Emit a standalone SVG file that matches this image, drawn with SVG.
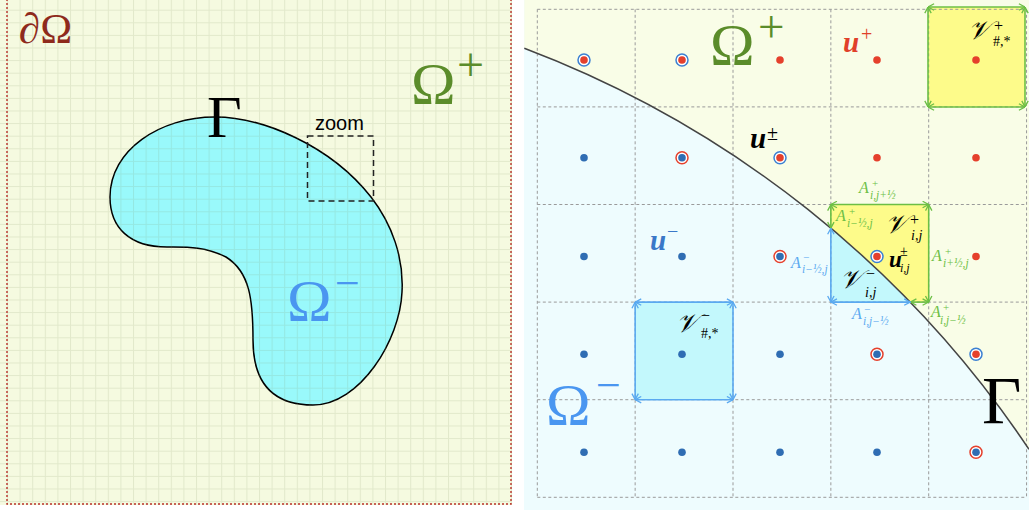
<svg xmlns="http://www.w3.org/2000/svg" width="1029" height="510" viewBox="0 0 1029 510">
<defs>
<style>
.m{font-family:"Liberation Serif","DejaVu Serif",serif}
.i{font-style:italic}
.b{font-weight:bold}
.v{font-family:"DejaVu Serif","Liberation Serif",serif;font-style:italic}
.grid{stroke:#9a9a9a;stroke-width:1;stroke-dasharray:3 2.5;fill:none}
.ga{stroke:#6cbf45;stroke-width:1.6;fill:none;marker-start:url(#ag);marker-end:url(#ag)}
.ba{stroke:#5aa9f0;stroke-width:1.6;fill:none;marker-start:url(#ab);marker-end:url(#ab)}
.gt{fill:#6cbf45}
.bt{fill:#5aa9f0}
.rd{fill:#e5402c}
.bd{fill:#2f6db3}
.rr{fill:#fff;stroke:#e5402c;stroke-width:1.5}
.br{fill:#fff;stroke:#3c80d2;stroke-width:1.5}
</style>
<pattern id="g" x="7" y="9.7" width="12.6" height="12.6" patternUnits="userSpaceOnUse">
<path d="M0 0.5H12.6M0.5 0V12.6" stroke="#7f9060" stroke-opacity="0.16" stroke-width="1" fill="none"/>
</pattern>
<marker id="ag" viewBox="0 0 8 8" refX="7.6" refY="4" markerWidth="8" markerHeight="8" markerUnits="userSpaceOnUse" orient="auto-start-reverse">
<path d="M1.5,0.8 L7.5,4 L1.5,7.2" fill="none" stroke="#6cbf45" stroke-width="1.3"/>
</marker>
<marker id="ab" viewBox="0 0 8 8" refX="7.6" refY="4" markerWidth="8" markerHeight="8" markerUnits="userSpaceOnUse" orient="auto-start-reverse">
<path d="M1.5,0.8 L7.5,4 L1.5,7.2" fill="none" stroke="#5aa9f0" stroke-width="1.3"/>
</marker>
</defs>
<rect width="1029" height="510" fill="#fff"/>

<!-- LEFT PANEL -->
<g id="left-panel">
<rect x="0" y="0" width="512" height="505" fill="#f5fae0"/>
<path id="blob" d="M215,117 C262,117 330,145 371,197 C392,224 404,258 402,292 C400,340 360,405 313,405 C275,405 253,385 253,340 C253,300 250,272 226,257 C205,246 185,247 167,247 C130,247 110,228 110,197 C110,150 160,117 215,117 Z" fill="#99f9fb" stroke="#000" stroke-width="1.5"/>
<rect x="0" y="0" width="512" height="505" fill="url(#g)"/>
<rect x="7" y="-5" width="504" height="509" fill="none" stroke="#b8302a" stroke-width="1.4" stroke-dasharray="2 2"/>
<rect id="zoom-box" x="307.5" y="136" width="66" height="65" fill="none" stroke="#222" stroke-width="1.5" stroke-dasharray="6 4"/>
<text x="315" y="130" font-family="Liberation Sans, Arial, sans-serif" font-size="20" fill="#000">zoom</text>
<text class="m" x="19" y="43" font-size="43" fill="#8e2a1c"><tspan class="i">∂</tspan>Ω</text>
<text class="m" x="207" y="137" font-size="60" fill="#000">Γ</text>
<text class="m" x="411" y="104" font-size="60" fill="#5b8c2a">Ω</text>
<text class="m" x="457" y="81" font-size="48" fill="#5b8c2a">+</text>
<text class="m" x="287" y="321" font-size="60" fill="#4a96f0">Ω</text>
<text class="m" x="335" y="298" font-size="44" fill="#4a96f0">−</text>
</g>

<!-- RIGHT PANEL -->
<g id="right-panel">
<rect x="524" y="0" width="505" height="510" fill="#eefcfe"/>
<path d="M524.3,0 V48.3 A1058,1058 0 0 1 1029,449.3 V0 Z" fill="#f9fde7"/>

<g id="cells">
<rect id="cell-plus-hash" x="928" y="7" width="97" height="100" fill="#fdfb8a"/>
<rect id="cell-minus-hash" x="635.15" y="302.1" width="97.85" height="97.6" fill="#c3f8fc"/>
<path id="cell-ij-plus" d="M830.85,204.5 H928.7 V302.1 H910.3 A1058,1058 0 0 0 830.85,228.2 Z" fill="#fdfb8a"/>
<path id="cell-ij-minus" d="M830.85,228.2 A1058,1058 0 0 1 910.3,302.1 H830.85 Z" fill="#c3f8fc"/>
</g>

<g id="grid">
<path class="grid" d="M537.3,9.3 V497.3 M635.15,9.3 V497.3 M733,9.3 V497.3 M830.85,9.3 V497.3 M928.7,9.3 V497.3 M1026.55,9.3 V497.3"/>
<path class="grid" d="M537.3,9.3 H1026.55 M537.3,106.9 H1026.55 M537.3,204.5 H1026.55 M537.3,302.1 H1026.55 M537.3,399.7 H1026.55 M537.3,497.3 H1026.55"/>
</g>

<path id="gamma-curve" d="M524.3,48.3 A1058,1058 0 0 1 1029,449.3" fill="none" stroke="#444" stroke-width="1.5"/>

<g id="connectors">
<path class="ga" d="M928,7 H1025"/>
<path class="ga" d="M928,107 H1025"/>
<path class="ga" d="M928,7 V107"/>
<path class="ga" d="M1025,7 V107"/>
<path class="ba" d="M635.15,302.1 H733"/>
<path class="ba" d="M635.15,399.7 H733"/>
<path class="ba" d="M635.15,302.1 V399.7"/>
<path class="ba" d="M733,302.1 V399.7"/>
<path class="ga" d="M830.85,204.5 H928.7"/>
<path class="ga" d="M928.7,204.5 V302.1"/>
<path class="ga" d="M910.3,302.1 H928.7"/>
<path class="ga" d="M830.85,204.5 V228.2"/>
<path class="ba" d="M830.85,228.2 V302.1"/>
<path class="ba" d="M830.85,302.1 H910.3"/>
</g>

<g id="dots">
<circle class="br" cx="584" cy="60" r="6"/><circle class="rd" cx="584" cy="60" r="3.8"/>
<circle class="br" cx="682" cy="60" r="6"/><circle class="rd" cx="682" cy="60" r="3.8"/>
<circle class="rd" cx="780" cy="60" r="3.8"/>
<circle class="rd" cx="877" cy="60" r="3.8"/>
<circle class="rd" cx="976" cy="60" r="3.8"/>

<circle class="bd" cx="584" cy="157.7" r="3.8"/>
<circle class="rr" cx="682" cy="157.7" r="6"/><circle class="bd" cx="682" cy="157.7" r="3.8"/>
<circle class="br" cx="780" cy="157.7" r="6"/><circle class="rd" cx="780" cy="157.7" r="3.8"/>
<circle class="rd" cx="877" cy="157.7" r="3.8"/>
<circle class="rd" cx="976" cy="157.7" r="3.8"/>

<circle class="bd" cx="584" cy="256.5" r="3.8"/>
<circle class="bd" cx="682" cy="256.5" r="3.8"/>
<circle class="rr" cx="780" cy="256.5" r="6"/><circle class="bd" cx="780" cy="256.5" r="3.8"/>
<circle class="br" cx="877" cy="256.5" r="6"/><circle class="rd" cx="877" cy="256.5" r="3.8"/>
<circle class="rd" cx="976" cy="256.5" r="3.8"/>

<circle class="bd" cx="584" cy="354.3" r="3.8"/>
<circle class="bd" cx="682" cy="354.3" r="3.8"/>
<circle class="bd" cx="780" cy="354.3" r="3.8"/>
<circle class="rr" cx="877" cy="354.3" r="6"/><circle class="bd" cx="877" cy="354.3" r="3.8"/>
<circle class="br" cx="976" cy="354.3" r="6"/><circle class="rd" cx="976" cy="354.3" r="3.8"/>

<circle class="bd" cx="584" cy="452.3" r="3.8"/>
<circle class="bd" cx="682" cy="452.3" r="3.8"/>
<circle class="bd" cx="780" cy="452.3" r="3.8"/>
<circle class="bd" cx="877" cy="452.3" r="3.8"/>
<circle class="rr" cx="976" cy="452.3" r="6"/><circle class="bd" cx="976" cy="452.3" r="3.8"/>
</g>

<g id="labels">
<text class="m" x="710" y="65" font-size="60" fill="#5b8c2a">Ω</text>
<text class="m" x="758" y="42" font-size="47" fill="#5b8c2a">+</text>
<text class="m" x="546" y="425" font-size="60" fill="#4a96f0">Ω</text>
<text class="m" x="596" y="400" font-size="44" fill="#4a96f0">−</text>
<text class="m" x="982" y="423" font-size="68" fill="#000">Γ</text>

<text class="m i b" x="843" y="52" font-size="29" fill="#e0402a">u</text>
<text class="m" x="861" y="41" font-size="20" fill="#e0402a">+</text>
<text class="m i b" x="750" y="148" font-size="29" fill="#000">u</text>
<text class="m" x="767" y="140" font-size="20" fill="#000">±</text>
<text class="m i b" x="650" y="250" font-size="29" fill="#3a78c8">u</text>
<text class="m" x="667" y="238" font-size="20" fill="#3a78c8">−</text>

<text class="v" x="968" y="39" font-size="26" fill="#000">𝒱</text>
<text class="m" x="994" y="31" font-size="16" fill="#000">+</text>
<text class="m" x="993" y="46" font-size="14" fill="#000">#,*</text>

<text class="v" x="676" y="332" font-size="26" fill="#000">𝒱</text>
<text class="m" x="701" y="321" font-size="16" fill="#000">−</text>
<text class="m" x="701" y="338" font-size="14" fill="#000">#,*</text>

<text class="v" x="885" y="233" font-size="26" fill="#000">𝒱</text>
<text class="m" x="910" y="225" font-size="16" fill="#000">+</text>
<text class="m i" x="911" y="240" font-size="14" fill="#000">i,j</text>

<text class="v" x="840" y="288" font-size="26" fill="#000">𝒱</text>
<text class="m" x="866" y="279" font-size="16" fill="#000">−</text>
<text class="m i" x="865" y="297" font-size="14" fill="#000">i,j</text>

<text class="m i b" x="889" y="267" font-size="23" fill="#000">u</text>
<text class="m" x="900" y="256" font-size="14" fill="#000">±</text>
<text class="m i" x="900" y="272" font-size="12" fill="#000">i,j</text>

<text class="m i gt" x="859" y="193" font-size="16">A</text>
<text class="m gt" x="872" y="187" font-size="11">+</text>
<text class="m i gt" x="870" y="199" font-size="11.5">i,j+½</text>

<text class="m i gt" x="836" y="221" font-size="16">A</text>
<text class="m gt" x="849" y="215" font-size="11">+</text>
<text class="m i gt" x="847" y="227" font-size="11.5">i−½,j</text>

<text class="m i gt" x="932" y="261" font-size="16">A</text>
<text class="m gt" x="945" y="255" font-size="11">+</text>
<text class="m i gt" x="943" y="267" font-size="11.5">i+½,j</text>

<text class="m i gt" x="931" y="317" font-size="16">A</text>
<text class="m gt" x="943" y="311" font-size="11">+</text>
<text class="m i gt" x="940" y="324" font-size="11.5">i,j−½</text>

<text class="m i bt" x="791" y="268" font-size="16">A</text>
<text class="m bt" x="803" y="261" font-size="11">−</text>
<text class="m i bt" x="802" y="273" font-size="11.5">i−½,j</text>

<text class="m i bt" x="852" y="319" font-size="16">A</text>
<text class="m bt" x="864" y="313" font-size="11">−</text>
<text class="m i bt" x="863" y="325" font-size="11.5">i,j−½</text>
</g>
</g>
</svg>
